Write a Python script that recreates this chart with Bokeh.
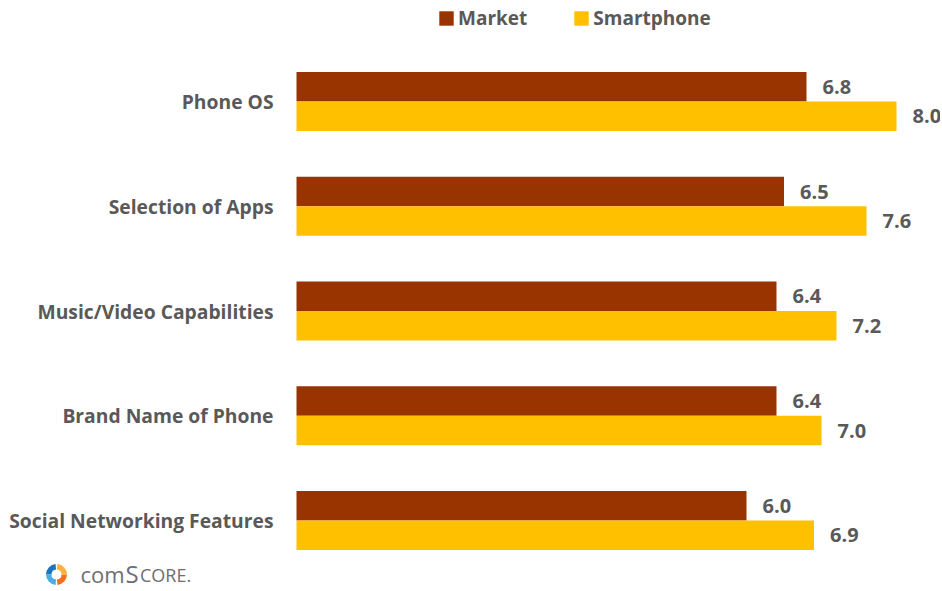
from bokeh.plotting import figure
from bokeh.models import Range1d, ColumnDataSource, Legend, LegendItem
from bokeh.transform import dodge
from bokeh.core.properties import value
from bokeh.embed import file_html
from bokeh.resources import INLINE

# ---- data ----
categories = ["Phone OS", "Selection of Apps", "Music/Video Capabilities",
              "Brand Name of Phone", "Social Networking Features"]
market = [6.8, 6.5, 6.4, 6.4, 6.0]
smartphone = [8.0, 7.6, 7.2, 7.0, 6.9]
series_names = ["Market", "Smartphone"]
series_colors = ["#993300", "#FFC000"]

# ---- layout constants ----
W, H = 940, 590
LEFT = 296            # pixel where value 0 sits
PX_X = 75.0           # pixels per value unit
CAT0 = 101.0          # pixel of first category centre
PX_Y = 104.75         # pixels per category
BAR_H = 29.5 / PX_Y
TXT = "#595959"
FONT = value("Open Sans")


def dx(px):
    return (px - LEFT) / PX_X


def dy(py):
    return (py - CAT0) / PX_Y


p = figure(width=W, height=H, output_backend="svg", toolbar_location=None,
           x_range=Range1d(dx(0), dx(W)), y_range=Range1d(dy(H), dy(0)),
           x_axis_location=None, y_axis_location=None,
           min_border=0, outline_line_color=None)
p.grid.visible = False

src = ColumnDataSource(dict(
    cat=categories,
    idx=list(range(len(categories))),
    market=market,
    smartphone=smartphone,
    market_lbl=[f"{v:.1f}" for v in market],
    smart_lbl=[f"{v:.1f}" for v in smartphone],
    zero=[0] * len(categories),
))

r1 = p.hbar(y=dodge("idx", -BAR_H / 2), left=0, right="market", height=BAR_H,
            fill_color=series_colors[0], line_color=None, source=src)
r2 = p.hbar(y=dodge("idx", BAR_H / 2), left=0, right="smartphone", height=BAR_H,
            fill_color=series_colors[1], line_color=None, source=src)

lbl_kw = dict(text_align="left", text_baseline="middle", text_font=FONT,
              text_font_style="bold", text_font_size="20px", text_color=TXT,
              x_offset=16, source=src)
p.text(x="market", y=dodge("idx", -BAR_H / 2), text="market_lbl", **lbl_kw)
p.text(x="smartphone", y=dodge("idx", BAR_H / 2), text="smart_lbl", **lbl_kw)

# category labels
p.text(x="zero", y="idx", text="cat", x_offset=-23, text_align="right",
       text_baseline="middle", text_font=FONT, text_font_style="bold",
       text_font_size="19.3px", text_color=TXT, source=src)

legend = Legend(items=[LegendItem(label=series_names[0], renderers=[r1]),
                       LegendItem(label=series_names[1], renderers=[r2])],
                orientation="horizontal", location=(437, H - 31),
                glyph_width=18, glyph_height=18, label_standoff=3, spacing=45,
                padding=0, margin=0, border_line_color=None,
                background_fill_alpha=0,
                label_text_font="Open Sans", label_text_font_style="bold",
                label_text_font_size="19px", label_text_color=TXT)
p.add_layout(legend)

# ---- comScore logo (decoration) ----
lx, ly = dx(56), dy(574)
ring = [(95, 180, "#1b75bc"), (180, 265, "#4aaee3"),
        (-85, 0, "#f26f21"), (0, 85, "#fbb040")]
for a0, a1, c in ring:
    p.annular_wedge(x=lx, y=ly, inner_radius=5, outer_radius=10.5,
                    inner_radius_units="screen", outer_radius_units="screen",
                    start_angle=a0, end_angle=a1, start_angle_units="deg",
                    end_angle_units="deg", fill_color=c, line_color=None)
logo_kw = dict(text_baseline="middle", text_align="left", text_font=FONT,
               text_color="#6d6e71")
p.text(x=[dx(80)], y=[dy(573.5)], text=["com"], text_font_size="22px", **logo_kw)
p.text(x=[dx(125)], y=[dy(572.5)], text=["S"], text_font_size="24px", **logo_kw)
p.text(x=[dx(139.5)], y=[dy(574.5)], text=["CORE."], text_font_size="18px", **logo_kw)

open("out.html", "w").write(file_html(p, INLINE))
